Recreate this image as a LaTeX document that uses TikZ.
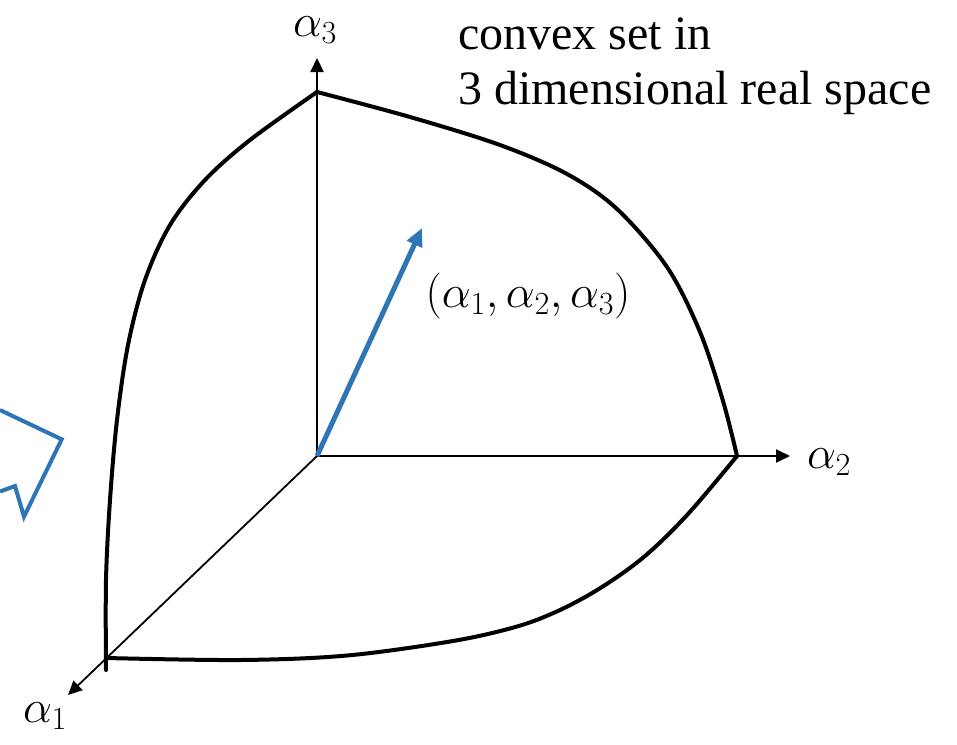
\RequirePackage{fix-cm}
\documentclass[tikz,border=0pt]{standalone}
\usepackage[no-math]{fontspec}
\setmainfont{Liberation Serif}
\usetikzlibrary{arrows.meta}
\definecolor{cvxblue}{RGB}{46,117,182}
\tikzset{cvxaxis/.style={line width=2.2pt,-{Triangle[length=14pt,width=13pt]}},
         cvxhull/.style={line width=4pt,line cap=round,line join=round},
         cvxvec/.style={cvxblue,line width=5pt,-{Triangle[length=18pt,width=16pt]}},
         cvxlab/.style={font=\fontsize{46}{52}\selectfont,inner sep=0pt},
         cvxtxt/.style={font=\fontsize{48}{55}\selectfont,inner sep=0pt,align=left}}

\begin{document}
\begin{tikzpicture}[x=1pt,y=-1pt]
    \useasboundingbox (0,0) rectangle (957,744);
    \coordinate (o) at (317,456);
    \foreach \n/\x/\y in {a1/68/695,a2/790/456,a3/317/58}
      {\coordinate (\n) at (\x,\y);}
    \coordinate (v1) at (106.5,658); \coordinate (v2) at (737,456);
    \coordinate (v3) at (317,92); \coordinate (v1e) at (106,670);
    % axes
    \draw[cvxaxis,line width=1.8pt] (o)--(a1);
    \draw[cvxaxis] (o)--(a2); \draw[cvxaxis] (o)--(a3);
    \node[cvxlab] (l1) at (45,716) {$\alpha_1$};
    \node[cvxlab] (l2) at (829,462) {$\alpha_2$};
    \node[cvxlab] (l3) at (315,30) {$\alpha_3$};
    % boundary of the set
    \draw[cvxhull] plot[smooth,tension=0.55] coordinates
      {(v3) (410,117) (500,145) (567,174) (617,209) (667,267) (700,332) (723,401) (v2)};
    \draw[cvxhull] plot[smooth,tension=0.55] coordinates
      {(v3) (250,140) (205,180) (170,225) (145,280) (128,345) (117,420) (110,500) (106,580) (v1e)};
    \draw[cvxhull] plot[smooth,tension=0.55] coordinates
      {(v1) (240,660) (347,655.5) (453,641) (517,626.5) (560,610) (602,587) (645,556) (688,514) (v2)};
    % point
    \coordinate (p) at (422,228);
    \draw[cvxvec] (o)--(p);
    \node[cvxlab] (pl) at (528,296) {$(\alpha_1,\alpha_2,\alpha_3)$};
    \node[cvxtxt,anchor=north west] (cap) at (458,18) {convex set in\\3 dimensional real space};
    % cut off arrow at the left
    \draw[cvxblue,line width=4pt] (0,410) -- (61.7,439.3) -- (24,516.7) -- (15,486) -- (0,491.5);
  \end{tikzpicture}
\end{document}
